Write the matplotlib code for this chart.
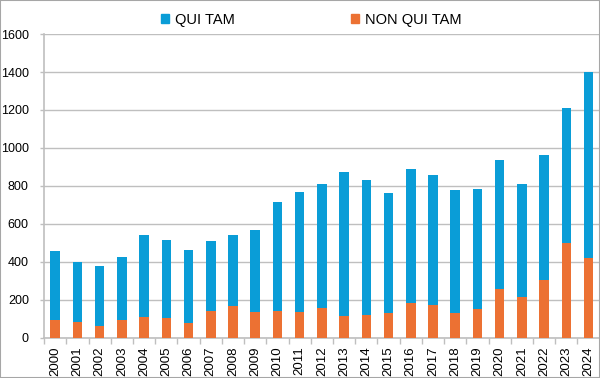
import matplotlib
matplotlib.use("Agg")
import matplotlib.pyplot as plt
from matplotlib.patches import Rectangle, Patch

plt.rcParams['font.family'] = ['Liberation Sans', 'DejaVu Sans']

years = [str(y) for y in range(2000, 2025)]
non_qui_tam = [93, 83, 62, 92, 111, 105, 76, 144, 166, 134, 142, 136, 158, 118, 120, 129,
               183, 174, 132, 150, 260, 213, 304, 498, 422]
totals = [456, 399, 378, 424, 542, 514, 461, 510, 543, 566, 717, 767, 812, 872, 833, 765,
          891, 856, 781, 784, 936, 809, 962, 1210, 1400]
qui_tam = [t - n for t, n in zip(totals, non_qui_tam)]

blue = '#0A9DD7'
orange = '#EC7133'
grid_c = '#BFBFBF'

fig = plt.figure(figsize=(6.0, 3.78), dpi=100)
ax = fig.add_axes([0.0735, 0.106, 0.926, 0.804])

x = list(range(len(years)))
ax.bar(x, non_qui_tam, width=0.43, color=orange, zorder=3)
ax.bar(x, qui_tam, width=0.43, bottom=non_qui_tam, color=blue, zorder=3)

ax.set_xlim(-0.5, len(years) - 0.5)
ax.set_ylim(0, 1600)
ax.set_yticks(range(0, 1601, 200))
ax.yaxis.grid(True, color=grid_c, linewidth=1.0, zorder=0)
ax.set_axisbelow(True)

ax.set_xticks(x)
ax.set_xticklabels(years, rotation=90, fontsize=9.5)
ax.set_xticks([i - 0.5 for i in range(len(years) + 1)], minor=True)
ax.tick_params(axis='x', which='major', length=0, pad=6)
ax.tick_params(axis='x', which='minor', length=4, color=grid_c, width=1)
ax.tick_params(axis='y', length=3, color=grid_c, width=1, labelsize=9, pad=8)

for s in ['top', 'right']:
    ax.spines[s].set_visible(False)
for s in ['left', 'bottom']:
    ax.spines[s].set_color(grid_c)
    ax.spines[s].set_linewidth(1.2)

handles = [Patch(color=blue), Patch(color=orange)]
fig.legend(handles, ['QUI TAM', 'NON QUI TAM'], ncol=2, loc='center',
           bbox_to_anchor=(0.519, 0.948), frameon=False, fontsize=10.5,
           handlelength=0.55, handleheight=0.55, handletextpad=0.4,
           columnspacing=8.0)

fig.patches.append(Rectangle((0, 0), 1, 1, transform=fig.transFigure, fill=False,
                             edgecolor='#A6A6A6', linewidth=1.5))

fig.savefig('out.png', dpi=100)
